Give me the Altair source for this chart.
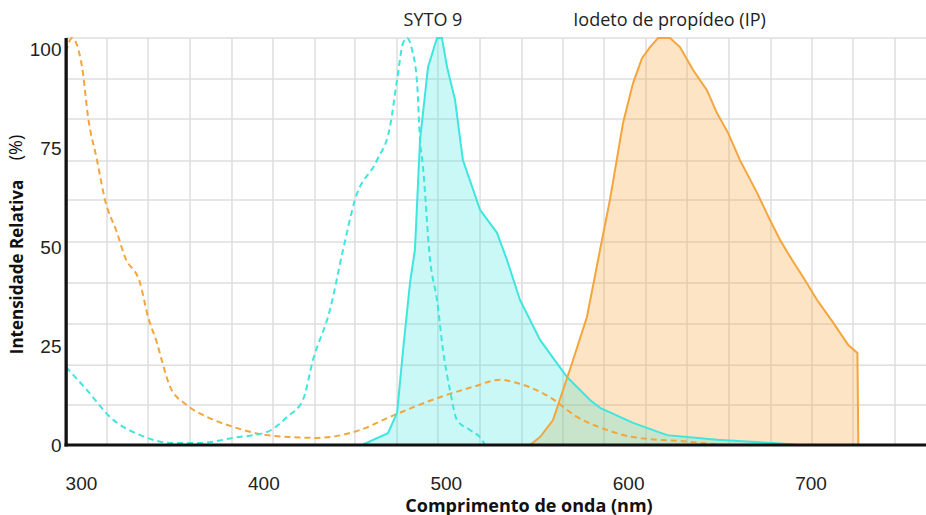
import altair as alt
import pandas as pd

# ---- data (wavelength nm, relative intensity) ----
ip_ex_wl = [291.8, 295.1, 300.6, 303.9, 308.8, 313.2, 319.8, 324.1, 332.4, 336.8, 341.7, 345.0,
            348.9, 358.1, 369.1, 383.4, 402.0, 429.4, 453.0, 469.4, 496.8, 514.9, 529.7, 539.1,
            557.1, 572.0, 588.4, 602.7, 633.9, 650.4]
ip_ex_val = [99.5, 103.0, 95.7, 83.0, 72.1, 62.0, 53.7, 47.6, 41.0, 32.4, 25.8, 20.3,
             14.7, 10.1, 7.1, 4.6, 2.5, 1.8, 3.8, 7.1, 12.1, 14.7, 16.5, 15.7,
             12.1, 7.1, 3.8, 2.0, 0.8, 0.0]

syto_ex_wl = [291.8, 303.3, 315.9, 332.4, 350.5, 365.3, 383.4, 402.0, 413.0, 421.7, 427.2, 436.5,
              443.7, 450.2, 462.3, 469.4, 473.3, 476.6, 478.8, 481.5, 484.3, 485.9, 487.5, 491.4,
              495.2, 498.5, 502.3, 506.2, 513.3, 519.9, 521.5]
syto_ex_val = [19.7, 13.9, 7.1, 2.5, 0.5, 0.5, 1.8, 3.3, 7.1, 11.4, 21.5, 34.2,
               49.4, 62.0, 72.1, 80.5, 92.4, 101.7, 103.0, 100.0, 91.6, 77.2, 70.4, 46.8,
               36.7, 24.0, 13.9, 6.3, 3.8, 1.3, 0.0]

syto_em_wl = [454.1, 468.3, 473.3, 476.6, 480.4, 483.1, 485.9, 490.3, 495.2, 497.9, 500.7, 505.1,
              509.4, 518.8, 528.1, 533.6, 540.7, 551.7, 566.5, 579.1, 584.6, 602.7, 621.3, 648.7,
              679.4, 694.2]
syto_em_val = [0.0, 3.0, 8.1, 24.0, 41.0, 49.4, 77.2, 95.7, 103.0, 103.0, 95.7, 87.3,
               72.1, 59.5, 53.7, 46.8, 36.7, 26.6, 17.2, 11.4, 9.4, 5.6, 2.5, 1.3,
               0.5, 0.0]

ip_em_wl = [546.2, 551.7, 558.8, 564.3, 569.8, 577.4, 584.6, 590.0, 597.2, 602.7, 607.6, 612.0,
            616.4, 623.0, 628.4, 635.6, 643.2, 648.7, 654.8, 661.3, 670.7, 677.8, 683.3, 689.9,
            695.9, 703.6, 712.5, 720.7, 725.7, 726.2]
ip_em_val = [0.0, 2.0, 6.3, 13.9, 21.5, 32.4, 49.4, 62.0, 81.5, 91.6, 97.9, 100.7,
             103.0, 103.0, 100.7, 94.9, 89.8, 84.0, 79.0, 72.1, 63.8, 56.9, 51.9, 46.8,
             42.5, 36.7, 30.9, 25.3, 23.3, 0.0]

x_ticks = [300, 400, 500, 600, 700]
y_ticks = [0, 25, 50, 75, 100]

grid_x = [314.3, 336.8, 359.8, 382.8, 405.3, 428.3, 450.2, 473.3, 495.7, 518.8, 541.8, 564.3,
          586.8, 609.8, 632.3, 655.3, 678.3, 700.8, 723.3, 746.3]
grid_y = [10.1, 20.2, 30.6, 41.0, 51.4, 62.0, 71.9, 82.5, 92.6, 103.0]

label_names = ["SYTO 9", "Iodeto de propídeo (IP)"]
label_wl = [493.0, 622.7]

CYAN = "#3fe6de"
ORANGE = "#f4a53c"
AXIS = "#111111"

W, H = 860, 407
X_DOMAIN = [291.8, 763.3]
Y_DOMAIN = [0, 103]

xs = alt.Scale(domain=X_DOMAIN, nice=False, zero=False)
ys = alt.Scale(domain=Y_DOMAIN, nice=False, zero=False)

xaxis = alt.Axis(values=x_ticks, title="Comprimento de onda (nm)", grid=False, ticks=False,
                 tickSize=0, labelPadding=44, labelBaseline="alphabetic",
                 labelFont="Liberation Sans", labelFontSize=19, labelColor="#222222",
                 domain=False,
                 titleFont="Open Sans", titleFontSize=18, titleFontWeight="bold",
                 titleColor="#111111", titleX=462.5, titleY=66, titleAlign="center",
                 titleBaseline="alphabetic")
yaxis = alt.Axis(values=y_ticks, title="Intensidade Relativa", grid=False, ticks=False,
                 tickSize=0, labelPadding=5, labelAlign="right", labelBaseline="middle",
                 labelFont="Liberation Sans", labelFontSize=19, labelColor="#222222",
                 domain=False,
                 titleFont="Open Sans", titleFontSize=17, titleFontWeight="bold",
                 titleColor="#111111", titleAngle=270, titleX=-44, titleY=228.5,
                 titleAlign="center", titleBaseline="alphabetic")

X = alt.X("wl:Q", scale=xs, axis=xaxis)
Y = alt.Y("val:Q", scale=ys, axis=yaxis)


def df(wl, val):
    return pd.DataFrame({"wl": wl, "val": val})


vgrid = alt.Chart(pd.DataFrame({"wl": grid_x})).mark_rule(
    color="#dedede", strokeWidth=1.5).encode(x=X)
hgrid = alt.Chart(pd.DataFrame({"val": grid_y})).mark_rule(
    color="#dedede", strokeWidth=1.5).encode(y=Y)

ip_area = alt.Chart(df(ip_em_wl, ip_em_val)).mark_area(
    color=ORANGE, opacity=0.3).encode(x=X, y=Y)
syto_area = alt.Chart(df(syto_em_wl, syto_em_val)).mark_area(
    color=CYAN, opacity=0.28).encode(x=X, y=Y)

ip_ex_line = alt.Chart(df(ip_ex_wl, ip_ex_val)).mark_line(
    color=ORANGE, strokeWidth=2, strokeDash=[6, 4], interpolate="monotone").encode(x=X, y=Y)
syto_ex_line = alt.Chart(df(syto_ex_wl, syto_ex_val)).mark_line(
    color=CYAN, strokeWidth=2, strokeDash=[6, 4], interpolate="monotone").encode(x=X, y=Y)

syto_em_line = alt.Chart(df(syto_em_wl, syto_em_val)).mark_line(
    color=CYAN, strokeWidth=2).encode(x=X, y=Y)
ip_em_line = alt.Chart(df(ip_em_wl, ip_em_val)).mark_line(
    color=ORANGE, strokeWidth=2).encode(x=X, y=Y)

# axis frame: solid black bars along the left and bottom edges of the plot
frame = pd.DataFrame({"a": [0]})
y_bar = alt.Chart(frame).mark_rect(color=AXIS, opacity=1).encode(
    x=alt.value(-1.5), x2=alt.value(1.8), y=alt.value(0), y2=alt.value(H + 1.5))
x_bar = alt.Chart(frame).mark_rect(color=AXIS, opacity=1).encode(
    x=alt.value(-1.5), x2=alt.value(W), y=alt.value(H - 1.5), y2=alt.value(H + 1.5))

labels = alt.Chart(pd.DataFrame({"wl": label_wl, "name": label_names})).mark_text(
    font="Open Sans", fontSize=18, color="#222222", align="center", baseline="middle"
).encode(x=X, y=alt.value(-17), text="name:N")

pct = alt.Chart(pd.DataFrame({"t": ["(%)"]})).mark_text(
    font="Open Sans", fontSize=18, color="#111111", align="center", baseline="alphabetic",
    angle=270
).encode(x=alt.value(-44), y=alt.value(109.5), text="t:N")

chart = alt.layer(
    vgrid, hgrid, ip_area, syto_area, ip_ex_line, syto_ex_line, syto_em_line, ip_em_line,
    y_bar, x_bar, labels, pct
).properties(
    width=W, height=H,
    padding={"left": 66, "top": 38, "right": 0, "bottom": 70},
    autosize=alt.AutoSizeParams(type="none"),
    background="white",
).configure_view(stroke=None)

chart.save("out.html", embed_options={"renderer": "svg", "actions": False})
